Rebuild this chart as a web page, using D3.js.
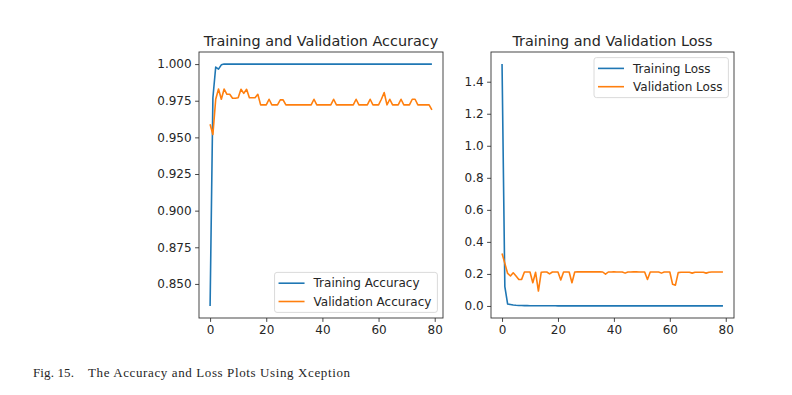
<!DOCTYPE html>
<html>
<head>
<meta charset="utf-8">
<script src="https://cdn.jsdelivr.net/npm/d3@7"></script>
<style>
  body { margin: 0; background: #fff; }
  svg { display: block; }
  text { font-family: "DejaVu Sans", sans-serif; fill: #262626; }
</style>
</head>
<body>
<svg id="chart" width="792" height="395"></svg>
<script>
// values, one per epoch (0..79)
const trainAcc = [
    0.835, 0.977, 0.998, 0.9966, 0.9995, 1.0, 1.0, 1.0, 1.0, 1.0,
    1.0, 1.0, 1.0, 1.0, 1.0, 1.0, 1.0, 1.0, 1.0, 1.0,
    1.0, 1.0, 1.0, 1.0, 1.0, 1.0, 1.0, 1.0, 1.0, 1.0,
    1.0, 1.0, 1.0, 1.0, 1.0, 1.0, 1.0, 1.0, 1.0, 1.0,
    1.0, 1.0, 1.0, 1.0, 1.0, 1.0, 1.0, 1.0, 1.0, 1.0,
    1.0, 1.0, 1.0, 1.0, 1.0, 1.0, 1.0, 1.0, 1.0, 1.0,
    1.0, 1.0, 1.0, 1.0, 1.0, 1.0, 1.0, 1.0, 1.0, 1.0,
    1.0, 1.0, 1.0, 1.0, 1.0, 1.0, 1.0, 1.0, 1.0, 1.0
];
const valAcc = [
    0.959, 0.952, 0.976, 0.983, 0.976, 0.983, 0.9794, 0.9794, 0.9767, 0.9767,
    0.977, 0.9828, 0.98, 0.9828, 0.977, 0.977, 0.977, 0.9794, 0.9722, 0.9722,
    0.9722, 0.976, 0.9722, 0.9722, 0.9722, 0.9756, 0.9756, 0.9722, 0.9722, 0.9722,
    0.9722, 0.9722, 0.9722, 0.9722, 0.9722, 0.9722, 0.9722, 0.976, 0.9722, 0.9722,
    0.9722, 0.9722, 0.9722, 0.9722, 0.976, 0.9722, 0.9722, 0.9722, 0.9722, 0.9722,
    0.9722, 0.9722, 0.976, 0.9722, 0.9722, 0.9722, 0.9722, 0.976, 0.9722, 0.9722,
    0.9722, 0.976, 0.9806, 0.9722, 0.976, 0.9722, 0.9722, 0.9722, 0.976, 0.9722,
    0.9722, 0.9722, 0.976, 0.976, 0.9722, 0.9722, 0.9722, 0.9722, 0.9722, 0.9688
];
const trainLoss = [
    1.51, 0.12, 0.012, 0.009, 0.006, 0.004, 0.003, 0.0025, 0.002, 0.0018,
    0.0016, 0.0015, 0.0014, 0.0013, 0.0012, 0.0011, 0.001, 0.001, 0.0009, 0.0009,
    0.0008, 0.0008, 0.0008, 0.0007, 0.0007, 0.0007, 0.0007, 0.0006, 0.0006, 0.0006,
    0.0006, 0.0006, 0.0005, 0.0005, 0.0005, 0.0005, 0.0005, 0.0005, 0.0005, 0.0004,
    0.0004, 0.0004, 0.0004, 0.0004, 0.0004, 0.0004, 0.0004, 0.0004, 0.0004, 0.0004,
    0.0004, 0.0004, 0.0004, 0.0004, 0.0003, 0.0003, 0.0003, 0.0003, 0.0003, 0.0003,
    0.0003, 0.0003, 0.0003, 0.0003, 0.0003, 0.0003, 0.0003, 0.0003, 0.0003, 0.0003,
    0.0003, 0.0003, 0.0003, 0.0003, 0.0003, 0.0003, 0.0003, 0.0003, 0.0003, 0.0003
];
const valLoss = [
    0.328, 0.266, 0.203, 0.187, 0.207, 0.187, 0.165, 0.166, 0.212, 0.212,
    0.212, 0.145, 0.21, 0.093, 0.21, 0.212, 0.212, 0.2, 0.212, 0.212,
    0.212, 0.162, 0.212, 0.212, 0.212, 0.145, 0.212, 0.213, 0.213, 0.213,
    0.213, 0.213, 0.213, 0.213, 0.213, 0.213, 0.212, 0.198, 0.212, 0.212,
    0.213, 0.212, 0.212, 0.212, 0.205, 0.212, 0.212, 0.213, 0.213, 0.212,
    0.212, 0.212, 0.165, 0.212, 0.212, 0.212, 0.212, 0.205, 0.212, 0.212,
    0.212, 0.135, 0.13, 0.208, 0.21, 0.21, 0.21, 0.21, 0.205, 0.21,
    0.21, 0.21, 0.21, 0.205, 0.21, 0.212, 0.212, 0.212, 0.212, 0.212
];

const xTicks = [0, 20, 40, 60, 80];
const accTicks = [0.850, 0.875, 0.900, 0.925, 0.950, 0.975, 1.000];
const lossTicks = [0.0, 0.2, 0.4, 0.6, 0.8, 1.0, 1.2, 1.4];

const BLUE = '#1f77b4';
const ORANGE = '#ff7f0e';
const TICK_FONT = 12;

const svg = d3.select('#chart');

// one subplot, matplotlib style (5% margins, outward ticks, boxed legend)
const drawPanel = (cfg) => {
    const g = svg.append('g');
    const n = cfg.series[0].values.length;
    const [ymin, ymax] = d3.extent(cfg.series.flatMap(s => s.values));
    const yPad = (ymax - ymin) * 0.05;
    const xPad = (n - 1) * 0.05;

    const x = d3.scaleLinear()
        .domain([-xPad, n - 1 + xPad])
        .range([cfg.left, cfg.right]);
    const y = d3.scaleLinear()
        .domain([ymin - yPad, ymax + yPad])
        .range([cfg.bottom, cfg.top]);

    // lines
    const line = d3.line()
        .x((d, i) => x(i))
        .y(d => y(d));
    cfg.series.forEach(s => {
        g.append('path')
            .datum(s.values)
            .attr('d', line)
            .attr('fill', 'none')
            .attr('stroke', s.color)
            .attr('stroke-width', 1.6)
            .attr('stroke-linejoin', 'round');
    });

    // axes
    const yAxis = g.append('g')
        .attr('transform', `translate(${cfg.left},0)`)
        .call(d3.axisLeft(y).tickValues(cfg.yTicks).tickFormat(cfg.fmt)
            .tickSizeInner(3.9).tickSizeOuter(0).tickPadding(3.5));
    const xAxis = g.append('g')
        .attr('transform', `translate(0,${cfg.bottom})`)
        .call(d3.axisBottom(x).tickValues(xTicks).tickFormat(d3.format('d'))
            .tickSizeInner(3.9).tickSizeOuter(0).tickPadding(3.5));
    [yAxis, xAxis].forEach(a => {
        a.select('.domain').remove();
        a.selectAll('line').attr('stroke', '#333').attr('stroke-width', 0.9);
        a.selectAll('text')
            .attr('fill', '#262626')
            .style('font-family', '"DejaVu Sans", sans-serif')
            .style('font-size', TICK_FONT + 'px');
    });

    // frame
    g.append('rect')
        .attr('x', cfg.left)
        .attr('y', cfg.top)
        .attr('width', cfg.right - cfg.left)
        .attr('height', cfg.bottom - cfg.top)
        .attr('fill', 'none')
        .attr('stroke', '#333')
        .attr('stroke-width', 0.9);

    // title
    g.append('text')
        .attr('x', (cfg.left + cfg.right) / 2)
        .attr('y', cfg.top - 6.5)
        .attr('text-anchor', 'middle')
        .style('font-size', '14.4px')
        .text(cfg.title);

    // legend
    const leg = g.append('g');
    const labels = leg.selectAll('text.lab')
        .data(cfg.series)
        .join('text')
        .attr('class', 'lab')
        .style('font-size', TICK_FONT + 'px')
        .text(d => d.name);
    const textW = d3.max(labels.nodes(), nd => nd.getComputedTextLength());
    const boxW = 4 + 26 + 9 + textW + 6;
    const boxH = 40;
    const pad = 5.6;
    const bx = cfg.right - pad - boxW;
    const by = cfg.legendLoc === 'lower right' ? cfg.bottom - pad - boxH : cfg.top + pad;

    leg.insert('rect', 'text')
        .attr('x', bx)
        .attr('y', by)
        .attr('width', boxW)
        .attr('height', boxH)
        .attr('rx', 2.5)
        .attr('fill', 'rgba(255,255,255,0.8)')
        .attr('stroke', '#d6d6d6')
        .attr('stroke-width', 0.9);
    leg.selectAll('line.key')
        .data(cfg.series)
        .join('line')
        .attr('class', 'key')
        .attr('x1', bx + 4)
        .attr('x2', bx + 4 + 26)
        .attr('y1', (d, i) => by + 10.8 + i * 18.3)
        .attr('y2', (d, i) => by + 10.8 + i * 18.3)
        .attr('stroke', d => d.color)
        .attr('stroke-width', 1.6);
    labels
        .attr('x', bx + 4 + 26 + 9)
        .attr('y', (d, i) => by + 10.8 + i * 18.3)
        .attr('dy', '0.35em');
};

drawPanel({
    left: 199, right: 443, top: 52, bottom: 318,
    title: 'Training and Validation Accuracy',
    yTicks: accTicks,
    fmt: d3.format('.3f'),
    legendLoc: 'lower right',
    series: [
        { name: 'Training Accuracy', values: trainAcc, color: BLUE },
        { name: 'Validation Accuracy', values: valAcc, color: ORANGE }
    ]
});

drawPanel({
    left: 491, right: 734, top: 52, bottom: 318,
    title: 'Training and Validation Loss',
    yTicks: lossTicks,
    fmt: d3.format('.1f'),
    legendLoc: 'upper right',
    series: [
        { name: 'Training Loss', values: trainLoss, color: BLUE },
        { name: 'Validation Loss', values: valLoss, color: ORANGE }
    ]
});

// figure caption
const caption = svg.append('g')
    .style('font-family', '"Liberation Serif", "Times New Roman", serif')
    .style('font-size', '13px');
caption.append('text')
    .attr('x', 33)
    .attr('y', 377)
    .attr('fill', '#111')
    .attr('textLength', 41)
    .style('font-family', 'inherit')
    .text('Fig. 15.');
caption.append('text')
    .attr('x', 88)
    .attr('y', 377)
    .attr('fill', '#111')
    .attr('textLength', 262)
    .style('font-family', 'inherit')
    .text('The Accuracy and Loss Plots Using Xception');
</script>
</body>
</html>
